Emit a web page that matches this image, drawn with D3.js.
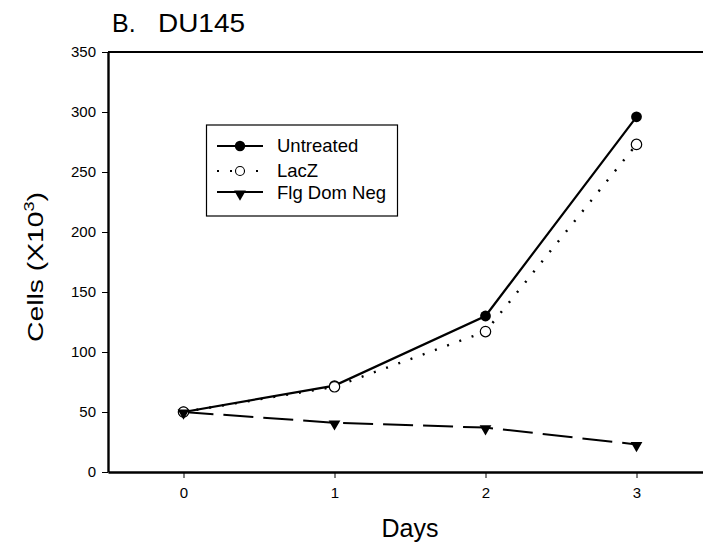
<!DOCTYPE html>
<html><head><meta charset="utf-8">
<script src="https://cdn.jsdelivr.net/npm/d3@7/dist/d3.min.js"></script>
<style>body{margin:0;background:#fff}svg{display:block;font-family:"Liberation Sans",Arial,sans-serif}</style>
</head><body>
<script>
const days = [0, 1, 2, 3];
const untreated = [50, 72, 130, 296];
const lacZ = [50, 71, 117, 273];
const flgDomNeg = [50, 41, 37, 23];
const yTicks = [0, 50, 100, 150, 200, 250, 300, 350];
const seriesNames = ["Untreated", "LacZ", "Flg Dom Neg"];

const W = 703, H = 545;
const FONT = "Liberation Sans, Arial, sans-serif";
const svg = d3.select("body").append("svg").attr("width", W).attr("height", H);

const x = d3.scaleLinear().domain([-0.5, 3.5]).range([108, 712]);
const y = d3.scaleLinear().domain([0, 350]).range([472, 52]);

const g = svg.append("g");
g.append("line").attr("x1", x(-0.5)).attr("x2", W + 5).attr("y1", y(350)).attr("y2", y(350)).attr("stroke", "#000").attr("stroke-width", 2);

const yAxis = d3.axisLeft(y).tickValues(yTicks).tickFormat(d3.format("d")).tickSize(6).tickPadding(6).tickSizeOuter(0);
const ya = g.append("g").attr("transform", `translate(${x(-0.5)},0)`).call(yAxis);
ya.select(".domain").attr("stroke-width", 2.4);
ya.selectAll("text").attr("font-size", 15).attr("font-family", FONT);

const xAxis = d3.axisBottom(x).tickValues(days).tickFormat(d3.format("d")).tickSize(6).tickPadding(9).tickSizeOuter(0);
const xa = g.append("g").attr("transform", `translate(0,${y(0)})`).call(xAxis);
xa.select(".domain").attr("stroke-width", 2.4);
xa.selectAll("text").attr("font-size", 15).attr("font-family", FONT);

// titles
svg.append("text").attr("x", 112).attr("y", 32).attr("font-size", 25).text("B.");
svg.append("text").attr("x", 158).attr("y", 32).attr("font-size", 25)
  .attr("textLength", 87).attr("lengthAdjust", "spacingAndGlyphs").text("DU145");
svg.append("text").attr("x", 410).attr("y", 537).attr("text-anchor", "middle").attr("font-size", 25).text("Days");
const yl = svg.append("text").attr("transform", `translate(43,267) rotate(-90)`).attr("text-anchor", "middle")
  .attr("font-size", 22).attr("textLength", 150).attr("lengthAdjust", "spacingAndGlyphs");
yl.append("tspan").text("Cells (X10");
yl.append("tspan").attr("dy", -9).attr("font-size", 14).text("3");
yl.append("tspan").attr("dy", 9).text(")");

const line = d3.line().x((d, i) => x(days[i])).y(d => y(d));

svg.append("path").datum(flgDomNeg).attr("d", line).attr("fill", "none").attr("stroke", "#000").attr("stroke-width", 2).attr("stroke-dasharray", "30,10");
svg.append("path").datum(lacZ).attr("d", line).attr("fill", "none").attr("stroke", "#000").attr("stroke-width", 2.4).attr("stroke-dasharray", "2,11");
svg.append("path").datum(untreated).attr("d", line).attr("fill", "none").attr("stroke", "#000").attr("stroke-width", 2.2);

const tri = d3.symbol().type(d3.symbolTriangle).size(60);
svg.selectAll(".uc").data(untreated).join("circle").attr("cx", (d, i) => x(days[i])).attr("cy", d => y(d)).attr("r", 5.4).attr("fill", "#000");
svg.selectAll(".lc").data(lacZ).join("circle").attr("cx", (d, i) => x(days[i])).attr("cy", d => y(d)).attr("r", 5.2).attr("fill", "#fff").attr("stroke", "#000").attr("stroke-width", 1.2);
svg.selectAll(".tri").data(flgDomNeg).join("path").attr("d", tri)
  .attr("transform", (d, i) => `translate(${x(days[i])},${y(d) + 1}) rotate(180)`).attr("fill", "#000");

// legend
const lg = svg.append("g");
lg.append("rect").attr("x", 206.5).attr("y", 125).attr("width", 191).attr("height", 91).attr("fill", "#fff").attr("stroke", "#000").attr("stroke-width", 1.2);
const ly = [146, 171, 193];
const lx1 = 217, lx2 = 263, lm = 240;
lg.append("line").attr("x1", lx1).attr("x2", lx2).attr("y1", ly[0]).attr("y2", ly[0]).attr("stroke", "#000").attr("stroke-width", 2.2);
lg.append("circle").attr("cx", lm).attr("cy", ly[0]).attr("r", 5.2).attr("fill", "#000");
lg.append("line").attr("x1", lx1).attr("x2", lx2 + 4).attr("y1", ly[1]).attr("y2", ly[1]).attr("stroke", "#000").attr("stroke-width", 2.2).attr("stroke-dasharray", "2,11");
lg.append("circle").attr("cx", lm).attr("cy", ly[1]).attr("r", 4.5).attr("fill", "#fff").attr("stroke", "#000").attr("stroke-width", 1.1);
lg.append("line").attr("x1", lx1).attr("x2", lx2).attr("y1", ly[2] - 1).attr("y2", ly[2] - 1).attr("stroke", "#000").attr("stroke-width", 2);
lg.append("path").attr("d", tri).attr("transform", `translate(${lm},${ly[2] + 1}) rotate(180)`).attr("fill", "#000");
lg.selectAll(".lt").data(seriesNames).join("text").attr("x", 277).attr("y", (d, i) => ly[i] + 6).attr("font-size", 18.5).text(d => d);
</script>
</body></html>
